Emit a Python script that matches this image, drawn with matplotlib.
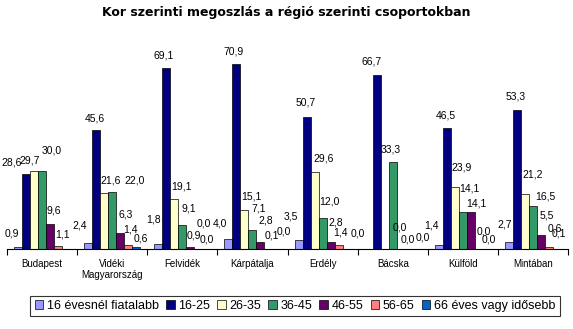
import numpy as np
import matplotlib
matplotlib.use("Agg")
import matplotlib.pyplot as plt

plt.rcParams["font.family"] = ["Liberation Sans", "DejaVu Sans"]

regions = ["Budapest", "Vidéki\nMagyarország", "Felvidék", "Kárpátalja",
           "Erdély", "Bácska", "Külföld", "Mintában"]
age_groups = ["16 évesnél fiatalabb", "16-25", "26-35", "36-45",
              "46-55", "56-65", "66 éves vagy idősebb"]

# percentages per age group, one value per region (nan = no value shown)
under_16 = [0.9, 2.4, 1.8, 4.0, 3.5, 0.0, 1.4, 2.7]
age_16_25 = [28.6, 45.6, 69.1, 70.9, 50.7, 66.7, 46.5, 53.3]
age_26_35 = [29.7, 21.6, 19.1, 15.1, 29.6, np.nan, 23.9, 21.2]
age_36_45 = [30.0, 22.0, 9.1, 7.1, 12.0, 33.3, 14.1, 16.5]
age_46_55 = [9.6, 6.3, 0.9, 2.8, 2.8, 0.0, 14.1, 5.5]
age_56_65 = [1.1, 1.4, 0.0, 0.1, 1.4, 0.0, 0.0, 0.6]
over_66 = [np.nan, 0.6, 0.0, 0.0, np.nan, 0.0, 0.0, 0.1]

series = [under_16, age_16_25, age_26_35, age_36_45, age_46_55, age_56_65, over_66]
colors = ["#9999FF", "#000080", "#FFFFCC", "#339966", "#660066", "#FF8080", "#0066CC"]

# label nudges in pixels (dx right, dy up) per series, per region -- the
# original chart has hand-dragged data labels
label_nudge = [
    [(-6, 13), (-8, 17), (-5, 25), (-8, 15), (-8, 23), (-11, 16), (-7, 20), (-4, 17)],
    [(-14, 12), (-1, 11), (-3, 13), (-3, 12), (-1, 14), (-5, 13), (-1, 12), (-1, 13)],
    [(-4, 11), (6, 12), (7, 13), (7, 13), (9, 13), (0, 12), (7, 19), (8, 19)],
    [(10, 20), (22, 11), (6, 17), (6, 22), (7, 16), (-2, 13), (7, 24), (12, 9)],
    [(4, 13), (5, 18), (4, 11), (5, 21), (5, 19), (-1, 21), (6, 9), (6, 19)],
    [(4, 12), (2, 16), (5, 25), (3, 13), (2, 13), (-1, 10), (5, 18), (6, 19)],
    [(0, 12), (5, 9), (0, 10), (7, 17), (0, 12), (6, 12), (2, 10), (2, 15)],
]

fig = plt.figure(figsize=(5.73, 3.29), dpi=100)
ax = fig.add_axes([7 / 573, 80 / 329, 561 / 573, 209 / 329])

x = np.arange(len(regions))
n = len(series)
w = 0.8 / n

for i, (vals, col) in enumerate(zip(series, colors)):
    pos = x - 0.4 + w * (i + 0.5)
    v = np.array(vals, dtype=float)
    ax.bar(pos, np.nan_to_num(v), width=w, color=col, edgecolor="black",
           linewidth=0.5, label=age_groups[i])
    for j, (px, val) in enumerate(zip(pos, v)):
        if np.isnan(val):
            continue
        dx, dy = label_nudge[i][j]
        ax.annotate(f"{val:.1f}".replace(".", ","), (px, val),
                    xytext=(dx, dy), textcoords="offset pixels",
                    ha="center", va="center", fontsize=7.5)

ax.set_xlim(-0.5, len(regions) - 0.5)
ax.set_ylim(0, 80)
ax.set_yticks([])
for s in ["left", "right", "top"]:
    ax.spines[s].set_visible(False)
ax.spines["bottom"].set_linewidth(0.8)

ax.set_xticks(x)
ax.set_xticklabels(regions, fontsize=7)
ax.tick_params(axis="x", which="major", length=0, pad=7)
ax.set_xticks(np.arange(-0.5, len(regions)), minor=True)
ax.tick_params(axis="x", which="minor", length=4, width=0.8, direction="out")

fig.text(0.5, 0.962, "Kor szerinti megoszlás a régió szerinti csoportokban",
         ha="center", va="center", fontsize=9, fontweight="bold",
         family="DejaVu Sans")

leg = fig.legend(loc="center", bbox_to_anchor=(295 / 573, 23 / 329), ncol=7,
                 fontsize=9, frameon=True, fancybox=False, handlelength=0.7,
                 handleheight=0.7, handletextpad=0.3, columnspacing=0.55,
                 borderpad=0.35, borderaxespad=0)
leg.get_frame().set_edgecolor("black")
leg.get_frame().set_linewidth(0.8)

fig.savefig("out.png", dpi=100)
